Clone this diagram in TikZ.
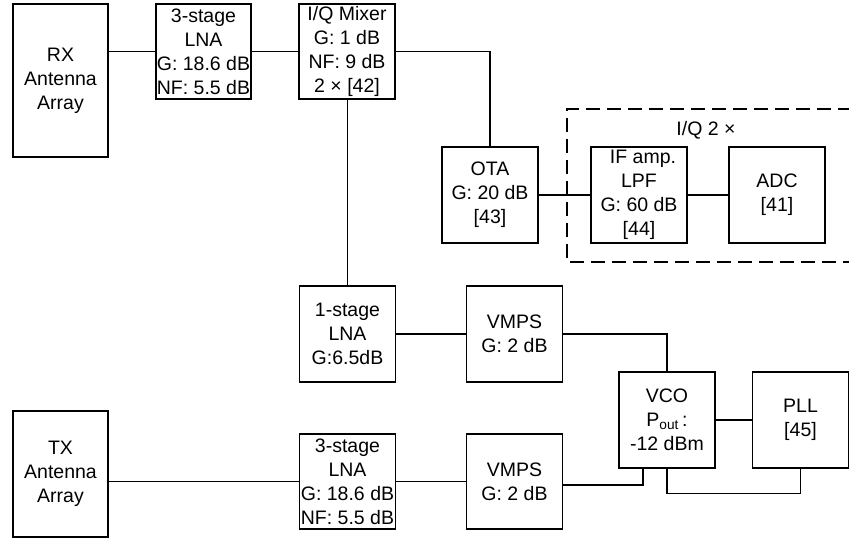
\documentclass[tikz,border=0pt]{standalone}
\usepackage{fontspec}
\setmainfont{Liberation Sans}
\usetikzlibrary{calc}
\begin{document}
\begin{tikzpicture}[x=1pt,y=-1pt,
  every node/.style={font=\fontsize{19.5}{24}\selectfont, align=center, inner sep=0pt},
  blk/.style={draw, line width=1.2pt, minimum width=96pt, minimum height=96pt},
  ant/.style={draw, line width=1.2pt, minimum width=95pt},
  wire/.style={line width=1.2pt},
  grp/.style={line width=1.2pt, dash pattern=on 14pt off 7pt}]
\useasboundingbox (0,0) rectangle (849,540);
% nodes
\node[ant, minimum height=153pt] (RX) at (60.5,80.5) {RX\\Antenna\\Array};
\node[blk, minimum width=95pt, minimum height=95pt] (LNA1) at (203.5,51.5) {3-stage\\LNA\\G: 18.6 dB\\NF: 5.5 dB};
\node[blk, minimum height=95pt] (MIX) at (347,51.5) {I/Q Mixer\\G: 1 dB\\NF: 9 dB\\2 × [42]};
\node[blk] (OTA) at (490,195) {OTA\\G: 20 dB\\{[43]}};
\node[blk] (IF) at (639,195) {\hspace*{8pt}IF amp.\\LPF\\G: 60 dB\\{[44]}};
\node[blk] (ADC) at (777,195) {ADC\\{[41]}};
\node (IQ) at (706,130) {I/Q 2 ×};
\node[blk] (LNA2) at (347.5,334) {1-stage\\LNA\\G:6.5dB};
\node[blk] (VMPS1) at (514.5,334) {VMPS\\G: 2 dB};
\node[blk] (VCO) at (667,420) {VCO\\P\textsubscript{out}\,:\\-12 dBm};
\node[blk] (PLL) at (800.5,420) {PLL\\{[45]}};
\node[ant, minimum height=126pt] (TX) at (60.5,474) {TX\\Antenna\\Array};
\node[blk, minimum height=95pt] (LNA3) at (347.5,481.5) {3-stage\\LNA\\G: 18.6 dB\\NF: 5.5 dB};
\node[blk, minimum height=95pt] (VMPS2) at (514.5,481.5) {VMPS\\G: 2 dB};
% dashed group
\coordinate (gTR) at (852,109);
\coordinate (gBR) at (852,262);
\draw[grp] (gTR) -- (567,109) -- (567,262) -- (gBR);
% connectors
\draw[wire] (LNA1.west -| RX.east) -- (LNA1.west);
\draw[wire] (LNA1.east) -- (MIX.west);
\draw[wire] (MIX.east) -| (OTA.north);
\draw[wire] (MIX.south -| LNA2.north) -- (LNA2.north);
\draw[wire] (OTA.east) -- (IF.west);
\draw[wire] (IF.east) -- (ADC.west);
\draw[wire] (LNA2.east) -- (VMPS1.west);
\draw[wire] (VMPS1.east) -| (VCO.north);
\draw[wire] (VCO.east) -- (PLL.west);
\draw[wire] (LNA3.west -| TX.east) -- (LNA3.west);
\draw[wire] (LNA3.east) -- (VMPS2.west);
\draw[wire] ($(VMPS2.east)+(0,3.5)$) -| ($(VCO.south)+(-24,0)$);
\draw[wire] (VCO.south) -- ++(0,25) -| (PLL.south);
\end{tikzpicture}
\end{document}
